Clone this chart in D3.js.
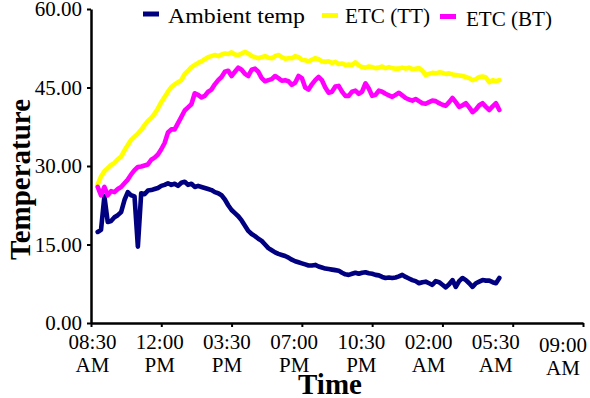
<!DOCTYPE html>
<html>
<head>
<meta charset="utf-8">
<script src="https://cdn.jsdelivr.net/npm/d3@7"></script>
<style>
  body { margin: 0; background: #fff; }
  svg { display: block; }
  text { font-family: "Liberation Serif", "Times New Roman", serif; fill: #000; }
</style>
</head>
<body>
<svg id="chart" width="590" height="398"></svg>
<script>
// Logged readings, one every 10 minutes (clock time, rolls past midnight)
const times = [
  "08:50","09:00","09:10","09:20","09:30","09:40","09:50",
  "10:00","10:10","10:20","10:30","10:40","10:50",
  "11:00","11:10","11:20","11:30","11:40","11:50",
  "12:00","12:10","12:20","12:30","12:40","12:50",
  "13:00","13:10","13:20","13:30","13:40","13:50",
  "14:00","14:10","14:20","14:30","14:40","14:50",
  "15:00","15:10","15:20","15:30","15:40","15:50",
  "16:00","16:10","16:20","16:30","16:40","16:50",
  "17:00","17:10","17:20","17:30","17:40","17:50",
  "18:00","18:10","18:20","18:30","18:40","18:50",
  "19:00","19:10","19:20","19:30","19:40","19:50",
  "20:00","20:10","20:20","20:30","20:40","20:50",
  "21:00","21:10","21:20","21:30","21:40","21:50",
  "22:00","22:10","22:20","22:30","22:40","22:50",
  "23:00","23:10","23:20","23:30","23:40","23:50",
  "00:00","00:10","00:20","00:30","00:40","00:50",
  "01:00","01:10","01:20","01:30","01:40","01:50",
  "02:00","02:10","02:20","02:30","02:40","02:50",
  "03:00","03:10","03:20","03:30","03:40","03:50",
  "04:00","04:10","04:20","04:30","04:40","04:50"
];

const ambientTemp = [
  17.4,17.8,24.2,19.3,19.5,20.2,20.6,
  21.2,23.5,25.0,24.4,24.2,14.6,
  24.8,24.6,25.3,25.4,25.6,25.8,
  26.2,26.4,26.7,26.4,26.6,26.2,
  26.8,27.0,26.4,26.6,26.0,26.2,
  26.0,25.8,25.6,25.4,25.0,24.8,
  24.4,23.6,22.5,21.6,21.0,20.4,
  19.6,18.6,17.6,17.0,16.6,16.1,
  15.7,15.0,14.3,13.9,13.5,13.2,
  13.0,12.8,12.5,12.1,11.8,11.6,
  11.4,11.2,11.0,11.0,11.1,10.8,
  10.6,10.4,10.3,10.2,10.1,10.0,
  9.6,9.3,9.2,9.4,9.6,9.4,
  9.6,9.7,9.5,9.4,9.2,9.1,
  8.8,8.6,8.7,8.6,8.7,8.9,
  9.2,8.8,8.5,8.2,8.0,7.6,
  7.8,7.9,7.6,7.3,8.0,7.8,
  7.3,6.8,7.4,8.2,6.9,8.0,
  8.6,8.2,7.6,6.9,7.6,7.9,
  8.2,8.1,8.1,7.8,7.6,8.6
];

const etcTT = [
  26.5,28.0,29.0,29.6,30.2,30.6,31.3,
  31.8,33.0,34.0,35.0,35.6,36.2,
  36.9,37.8,38.6,39.2,40.0,41.0,
  42.2,43.2,44.2,45.1,45.6,46.0,
  46.4,47.6,48.2,48.9,49.3,49.7,
  50.0,50.4,50.8,51.0,51.2,51.0,
  51.3,51.5,51.4,51.7,51.3,51.2,
  51.5,51.8,51.5,51.0,50.8,50.6,
  50.8,51.0,50.7,50.6,51.0,51.2,
  50.8,50.5,50.6,50.6,51.0,50.8,
  50.3,50.2,50.0,50.3,50.6,50.4,
  50.0,49.9,50.0,49.7,49.9,49.5,
  49.6,49.3,49.4,49.3,49.8,49.2,
  48.9,48.8,49.0,48.9,48.7,48.8,
  49.0,48.7,48.9,48.7,48.6,48.6,
  48.8,48.6,48.8,48.5,48.6,48.7,
  48.2,47.4,47.6,47.8,47.7,47.9,
  47.8,47.6,47.7,47.5,47.4,47.3,
  47.2,47.0,46.8,46.4,46.6,47.0,
  47.1,46.9,46.0,46.4,46.2,46.4
];

const etcBT = [
  26.0,24.4,26.0,24.4,25.2,25.0,25.6,
  26.0,26.7,27.4,28.4,29.2,29.8,
  29.9,30.1,30.3,31.2,31.6,32.2,
  33.2,34.4,36.4,37.0,37.0,38.2,
  39.4,40.6,41.2,41.8,43.9,43.6,
  43.1,43.4,44.2,44.6,45.6,46.4,
  47.0,48.0,48.2,47.2,48.0,48.8,
  48.4,47.6,47.2,48.4,48.6,48.0,
  46.8,46.2,46.4,46.6,47.2,46.8,
  46.3,46.4,46.2,45.5,45.9,47.2,
  46.8,45.0,44.6,45.6,46.4,47.0,
  46.4,45.0,44.0,44.2,45.2,45.3,
  44.2,43.4,43.4,44.2,44.4,43.8,
  44.2,45.8,44.8,43.4,43.6,44.4,
  44.2,43.8,43.5,43.2,43.6,44.0,
  43.5,43.0,42.7,42.5,42.8,42.4,
  42.0,41.9,42.2,42.5,42.4,42.0,
  41.7,41.5,42.2,43.0,42.2,41.3,
  41.6,42.0,41.2,40.3,40.8,41.6,
  42.0,41.3,40.7,41.4,42.0,40.7
];

const seriesNames = ["Ambient temp", "ETC (TT)", "ETC (BT)"];
const seriesColors = ["#000080", "#ffff00", "#ff00ff"];
const timeTicks = ["08:30","12:00","15:30","19:00","22:30","02:00","05:30","09:00"];
const tempTicks = [0, 15, 30, 45, 60];

// Turn a run of clock times into dates, moving to the next day after midnight
function toDates(list) {
  let day = 0, prev = -1;
  return list.map(s => {
    const [h, m] = s.split(":").map(Number);
    const mins = h * 60 + m;
    if (mins < prev) day++;
    prev = mins;
    return new Date(2000, 0, 1 + day, h, m);
  });
}

const sampleDates = toDates(times);
const tickDates = toDates(timeTicks);

const svg = d3.select("#chart");
const plotLeft = 91, plotRight = 583, plotTop = 9, plotBottom = 323;

const x = d3.scaleTime()
  .domain([tickDates[0], tickDates[tickDates.length - 1]])
  .range([plotLeft, plotRight]);
const y = d3.scaleLinear().domain([0, 60]).range([plotBottom, plotTop]);
// tick labels sit on a slightly narrower spread than the tick marks
const xLabel = d3.scaleTime().domain(x.domain()).range([92.5, 563]);

// data lines
const line = d3.line()
  .x((d, i) => x(sampleDates[i]))
  .y(d => y(d));

const series = [ambientTemp, etcTT, etcBT];
svg.append("g").selectAll("path")
  .data(series)
  .join("path")
  .attr("d", d => line(d))
  .attr("fill", "none")
  .attr("stroke", (d, i) => seriesColors[i])
  .attr("stroke-width", 4.6)
  .attr("stroke-linejoin", "round")
  .attr("stroke-linecap", "round");

// y axis
const yAxis = svg.append("g")
  .attr("transform", `translate(${plotLeft},0)`)
  .call(d3.axisLeft(y).tickValues(tempTicks).tickSize(4).tickSizeOuter(0)
    .tickPadding(5).tickFormat(d3.format(".2f")));
yAxis.select(".domain").attr("stroke", "#000").attr("stroke-width", 2.5);
yAxis.selectAll(".tick line").attr("stroke", "#000").attr("stroke-width", 2);
yAxis.selectAll(".tick text")
  .attr("font-size", 21)
  .attr("font-family", "Liberation Serif, serif")
  .attr("fill", "#000");

// x axis
const xAxis = svg.append("g")
  .attr("transform", `translate(0,${plotBottom})`)
  .call(d3.axisBottom(x).tickValues(tickDates).tickSize(4).tickSizeOuter(0).tickFormat(""));
xAxis.select(".domain").attr("stroke", "#000").attr("stroke-width", 2.5);
xAxis.selectAll(".tick line").attr("stroke", "#000").attr("stroke-width", 2);

const fmtClock = d3.timeFormat("%I:%M");
const fmtHalf = d3.timeFormat("%p");
const xLabels = svg.append("g").selectAll("text")
  .data(tickDates)
  .join("text")
  .attr("text-anchor", "middle")
  .attr("font-size", 21)
  .attr("transform", (d, i) => `translate(${xLabel(d)},${i === tickDates.length - 1 ? 2.5 : 0})`);
xLabels.append("tspan").attr("x", 0).attr("y", 349).text(d => fmtClock(d));
xLabels.append("tspan").attr("x", 0).attr("y", 372).text(d => fmtHalf(d));

// axis titles
svg.append("text")
  .attr("transform", "translate(30,179.5) rotate(-90)")
  .attr("text-anchor", "middle")
  .attr("font-size", 29)
  .attr("font-weight", "bold")
  .text("Temperature");

svg.append("text")
  .attr("x", 330).attr("y", 394)
  .attr("text-anchor", "middle")
  .attr("font-size", 29)
  .attr("font-weight", "bold")
  .text("Time");

// legend
const legendLayout = [
  { mx: 143, my: 14, tx: 168, ty: 23, w: 137 },
  { mx: 322, my: 15.5, tx: 345, ty: 23, w: 85 },
  { mx: 440, my: 16.5, tx: 466, ty: 26, w: 86 }
];
const legend = svg.append("g").selectAll("g")
  .data(seriesNames)
  .join("g");
legend.append("line")
  .attr("x1", (d, i) => legendLayout[i].mx)
  .attr("x2", (d, i) => legendLayout[i].mx + 16)
  .attr("y1", (d, i) => legendLayout[i].my)
  .attr("y2", (d, i) => legendLayout[i].my)
  .attr("stroke", (d, i) => seriesColors[i])
  .attr("stroke-width", 5);
legend.append("text")
  .attr("x", (d, i) => legendLayout[i].tx)
  .attr("y", (d, i) => legendLayout[i].ty)
  .attr("font-size", 22)
  .attr("textLength", (d, i) => legendLayout[i].w)
  .attr("lengthAdjust", "spacingAndGlyphs")
  .text(d => d);
</script>
</body>
</html>
